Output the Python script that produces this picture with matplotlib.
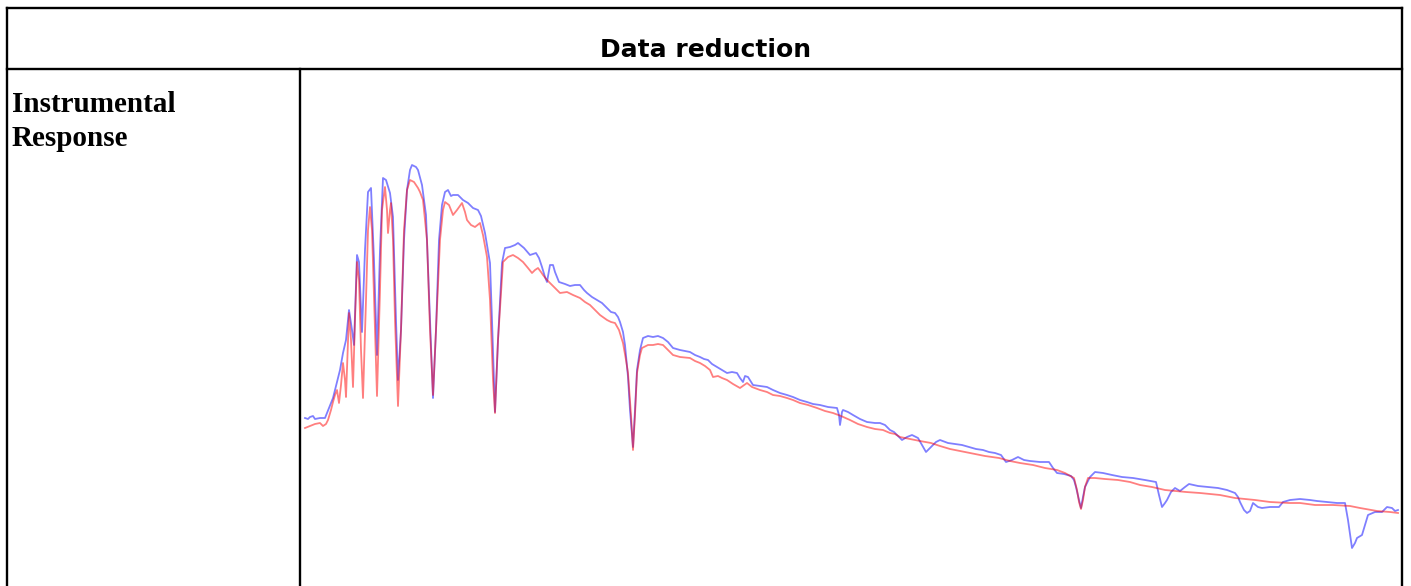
import matplotlib
matplotlib.use('Agg')
import matplotlib.pyplot as plt
from matplotlib.lines import Line2D

W, H = 1411, 586

# response traces (channel, relative response in arbitrary units)
blue_x = [0, 3, 5, 8, 10, 15, 20, 22, 28, 35, 38, 41, 44, 47, 49, 52, 54, 57, 60, 63,
          66, 69, 72, 75, 78, 81, 85, 88, 91, 93, 96, 99, 102, 105, 107, 111, 113, 117, 121, 125,
          128, 131, 134, 137, 140, 143, 146, 148, 153, 158, 163, 168, 173, 176, 180, 185, 187, 190, 193, 197,
          200, 205, 210, 213, 219, 225, 231, 234, 237, 240, 242, 245, 248, 250, 254, 260, 265, 270, 275, 279,
          282, 287, 292, 297, 302, 306, 310, 313, 315, 318, 320, 323, 325, 328, 330, 332, 335, 338, 343, 348,
          353, 358, 363, 368, 375, 385, 390, 395, 399, 403, 407, 412, 417, 422, 427, 432, 435, 438, 440, 443,
          448, 455, 462, 468, 475, 482, 488, 495, 502, 508, 515, 523, 532, 534, 535, 537, 538, 543, 548, 555,
          562, 570, 575, 580, 585, 589, 593, 597, 602, 607, 613, 617, 621, 626, 631, 635, 643, 650, 657, 664,
          671, 678, 684, 690, 696, 701, 707, 713, 719, 725, 735, 744, 748, 752, 759, 766, 769, 771, 774, 776,
          778, 780, 785, 790, 798, 807, 817, 828, 840, 851, 854, 857, 860, 862, 866, 870, 875, 880, 884, 893,
          903, 913, 922, 930, 933, 935, 939, 942, 945, 948, 953, 957, 965, 974, 978, 985, 995, 1005, 1012, 1022,
          1032, 1040, 1043, 1047, 1050, 1052, 1057, 1060, 1063, 1070, 1077, 1082, 1087, 1090, 1093]
blue_y = [168, 167, 169, 170, 167, 168, 168, 173, 188, 216, 233, 246, 276, 256, 241, 331, 324, 254, 336, 394,
          398, 326, 231, 336, 408, 406, 393, 369, 266, 206, 256, 346, 396, 416, 421, 419, 416, 401, 371, 266,
          188, 256, 346, 381, 394, 396, 390, 391, 391, 386, 383, 378, 376, 370, 353, 323, 266, 174, 246, 323,
          338, 339, 341, 343, 338, 331, 333, 328, 319, 309, 304, 321, 321, 314, 304, 302, 300, 301, 301, 296,
          293, 289, 286, 283, 278, 274, 273, 269, 264, 254, 241, 209, 176, 139, 176, 216, 236, 248, 250, 249,
          250, 248, 244, 238, 236, 234, 231, 229, 227, 226, 222, 219, 216, 213, 214, 213, 208, 204, 210, 209,
          201, 200, 199, 196, 193, 191, 189, 186, 184, 182, 181, 179, 178, 171, 161, 174, 176, 174, 171, 167,
          164, 163, 163, 161, 156, 154, 150, 146, 149, 151, 148, 141, 134, 139, 144, 146, 143, 142, 141, 139,
          137, 136, 134, 133, 131, 124, 126, 129, 126, 125, 124, 124, 118, 113, 112, 110, 106, 99, 86, 78,
          89, 99, 109, 114, 113, 111, 109, 108, 106, 104, 91, 79, 83, 86, 94, 98, 95, 99, 102, 100,
          99, 98, 96, 93, 89, 84, 76, 73, 75, 83, 79, 78, 79, 79, 84, 86, 87, 86, 85, 84,
          83, 83, 66, 38, 43, 48, 51, 61, 71, 74, 74, 79, 78, 75, 76]

red_x = [0, 5, 10, 15, 18, 21, 23, 26, 28, 30, 32, 34, 36, 38, 40, 41, 43, 44, 46, 48,
         50, 52, 54, 56, 58, 61, 63, 65, 67, 70, 72, 75, 77, 80, 82, 83, 85, 86, 88, 90,
         93, 96, 99, 102, 105, 109, 113, 115, 118, 122, 125, 128, 131, 135, 138, 140, 144, 148, 152, 157,
         160, 162, 166, 170, 175, 178, 182, 185, 188, 190, 193, 198, 203, 208, 213, 218, 223, 227, 230, 233,
         236, 238, 242, 245, 250, 255, 262, 268, 275, 280, 285, 290, 295, 302, 306, 310, 314, 318, 321, 323,
         326, 328, 330, 332, 335, 337, 343, 348, 353, 358, 363, 368, 375, 385, 390, 395, 400, 405, 408, 413,
         417, 422, 428, 435, 442, 447, 455, 462, 468, 475, 482, 488, 495, 503, 512, 520, 528, 536, 545, 553,
         562, 570, 578, 585, 590, 595, 605, 615, 626, 635, 645, 660, 670, 680, 694, 705, 715, 728, 740, 752,
         760, 769, 772, 774, 776, 778, 780, 783, 790, 800, 813, 825, 835, 847, 860, 870, 881, 895, 905, 915,
         930, 940, 950, 965, 984, 995, 1010, 1028, 1045, 1055, 1072, 1085, 1093]
red_y = [158, 160, 162, 163, 160, 162, 166, 176, 184, 191, 196, 183, 201, 223, 206, 189, 246, 273, 246, 199,
         266, 324, 306, 236, 188, 286, 356, 379, 356, 256, 190, 296, 376, 399, 376, 353, 376, 383, 346, 266,
         180, 256, 356, 396, 406, 404, 398, 394, 386, 346, 256, 191, 256, 346, 376, 384, 381, 371, 376, 383,
         374, 366, 361, 359, 363, 351, 329, 286, 206, 173, 246, 324, 329, 331, 328, 324, 318, 313, 316, 318,
         314, 311, 306, 303, 298, 293, 294, 291, 288, 284, 281, 276, 271, 266, 264, 263, 256, 243, 226, 213,
         171, 136, 171, 213, 231, 238, 241, 241, 242, 241, 236, 231, 229, 228, 225, 223, 220, 216, 209, 210,
         208, 206, 202, 198, 203, 199, 196, 194, 191, 190, 188, 186, 183, 181, 178, 175, 173, 170, 166, 162,
         159, 157, 156, 153, 152, 149, 147, 145, 143, 140, 137, 134, 132, 130, 128, 125, 123, 121, 118, 116,
         113, 108, 96, 84, 77, 86, 99, 108, 108, 107, 106, 104, 101, 99, 96, 95, 94, 93, 92, 91,
         88, 87, 86, 84, 83, 83, 81, 81, 80, 78, 75, 74, 73]

title = 'Data reduction'
row_label = ['Instrumental', 'Response']


def px(x, y):
    # pixel position (top-left origin) to figure fraction
    return x / W, 1 - y / H


fig = plt.figure(figsize=(W / 100, H / 100), dpi=100)

# table frame
frame = [((7, 8), (1402, 8)), ((7, 8), (7, 586)), ((1402, 8), (1402, 586)),
         ((7, 69), (1402, 69)), ((300, 69), (300, 586))]
for (x0, y0), (x1, y1) in frame:
    a, b = px(x0, y0)
    c, d = px(x1, y1)
    fig.add_artist(Line2D([a, c], [b, d], color='black', lw=1.7,
                          solid_capstyle='projecting', transform=fig.transFigure))

tx, ty = px(706, 57)
fig.text(tx, ty, title, ha='center', va='baseline', fontsize=18,
         fontweight='bold', family='DejaVu Sans')
for i, s in enumerate(row_label):
    lx, ly = px(12, 112 + 34 * i)
    fig.text(lx, ly, s, ha='left', va='baseline', fontsize=21,
             fontweight='bold', family='Liberation Serif')

ax = fig.add_axes([302 / W, 0, (1401 - 302) / W, 515 / H])
ax.plot(blue_x, blue_y, color='blue', lw=1.3, alpha=0.5)
ax.plot(red_x, red_y, color='red', lw=1.3, alpha=0.5)
ax.set_xlim(-3, 1096)
ax.set_ylim(0, 515)
ax.axis('off')

fig.savefig('out.png', dpi=100)
